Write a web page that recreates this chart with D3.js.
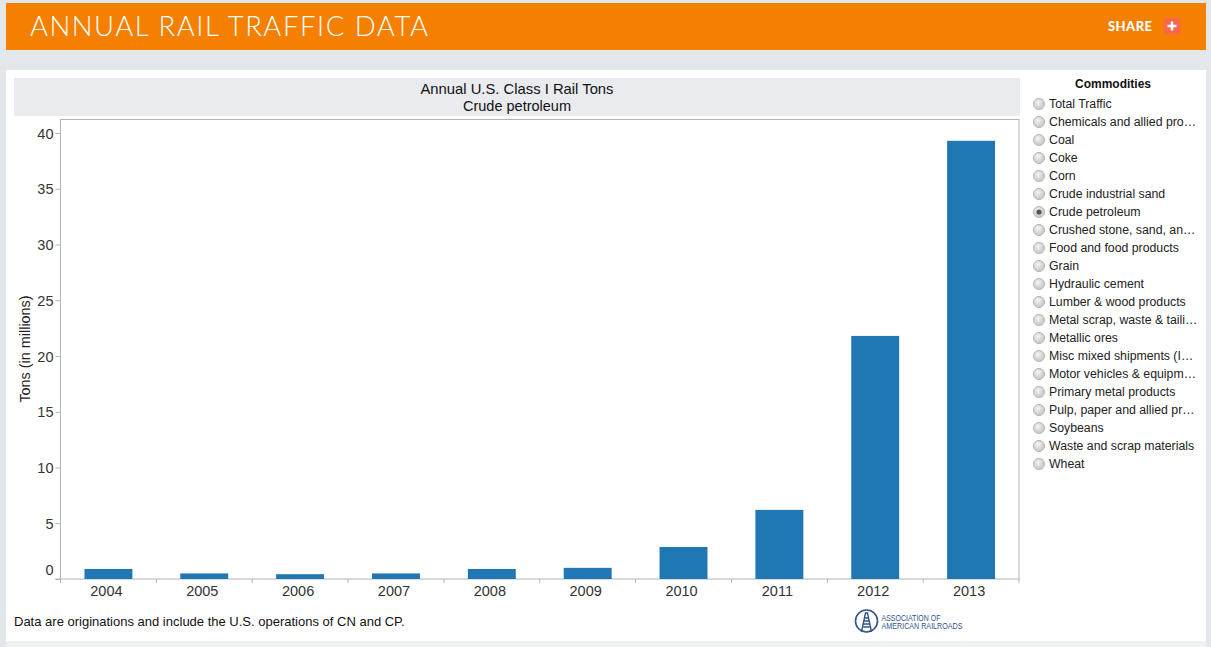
<!DOCTYPE html>
<html>
<head>
<meta charset="utf-8">
<title>Annual Rail Traffic Data</title>
<script src="https://cdnjs.cloudflare.com/ajax/libs/d3/7.8.5/d3.min.js"></script>
<style>
html, body { margin: 0; padding: 0; background: #e4e7ea; overflow: hidden; }
svg { display: block; }
text { font-family: "Liberation Sans", Arial, sans-serif; }
</style>
</head>
<body>
<svg id="chart" width="1211" height="647"></svg>
<script>
// values
const years = ["2004", "2005", "2006", "2007", "2008", "2009", "2010", "2011", "2012", "2013"];
const tons = [0.9, 0.5, 0.43, 0.5, 0.9, 1.0, 2.87, 6.2, 21.8, 39.3];
const yTicks = [0, 5, 10, 15, 20, 25, 30, 35, 40];
const commodities = ["Total Traffic", "Chemicals and allied pro\u2026", "Coal", "Coke", "Corn",
	"Crude industrial sand", "Crude petroleum", "Crushed stone, sand, an\u2026", "Food and food products",
	"Grain", "Hydraulic cement", "Lumber & wood products", "Metal scrap, waste & taili\u2026", "Metallic ores",
	"Misc mixed shipments (I\u2026", "Motor vehicles & equipm\u2026", "Primary metal products",
	"Pulp, paper and allied pr\u2026", "Soybeans", "Waste and scrap materials", "Wheat"];
const selected = "Crude petroleum";

const svg = d3.select("#chart");

//Page background
svg.append("rect").attr("x", 0).attr("y", 641).attr("width", 1211).attr("height", 6).style("fill", "#f0f2f2");
svg.append("rect").attr("x", 0).attr("y", 641).attr("width", 6).attr("height", 6).style("fill", "#e4e7ea");
svg.append("rect").attr("x", 1206).attr("y", 641).attr("width", 5).attr("height", 6).style("fill", "#e4e7ea");
svg.append("rect").attr("x", 6).attr("y", 70).attr("width", 1200).attr("height", 571).style("fill", "#fff");

//Header
svg.append("rect").attr("x", 6).attr("y", 3).attr("width", 1200).attr("height", 47).style("fill", "#f47f00");
svg.append("text").attr("x", 30).attr("y", 36)
	.style("font-family", "Lato, sans-serif").style("font-weight", 300)
	.style("font-size", "27.5px").style("fill", "#fff")
	.attr("textLength", 398).attr("lengthAdjust", "spacing")
	.text("ANNUAL RAIL TRAFFIC DATA");
svg.append("text").attr("x", 1108).attr("y", 31)
	.style("font-family", "Lato, sans-serif").style("font-weight", 900)
	.style("font-size", "13px").style("fill", "#fff")
	.attr("textLength", 44)
	.text("SHARE");
svg.append("rect").attr("x", 1164).attr("y", 18).attr("width", 16).attr("height", 16).attr("rx", 1).style("fill", "#f9684d");
svg.append("path").attr("d", "M1172 21.5V30.5M1167.5 26H1176.5").style("stroke", "#fff").style("stroke-width", 2.4);

//Title band
svg.append("rect").attr("x", 14).attr("y", 78).attr("width", 1006).attr("height", 38).style("fill", "#e9ebee");
svg.append("text").attr("x", 517).attr("y", 94).attr("text-anchor", "middle")
	.style("font-size", "14.8px").style("fill", "#111").text("Annual U.S. Class I Rail Tons");
svg.append("text").attr("x", 517).attr("y", 111).attr("text-anchor", "middle")
	.style("font-size", "14.5px").style("fill", "#111").text(selected);

//Plot
const left = 60.5, right = 1019, top_ = 119.5, bottom = 579;
const x = d3.scaleBand().domain(years).range([left, right]).paddingInner(0.5).paddingOuter(0.25);
const y = d3.scaleLinear().domain([0, 40]).range([bottom, 133]);

svg.append("rect")
	.attr("x", left).attr("y", top_)
	.attr("width", right - left).attr("height", bottom - top_)
	.style("fill", "#fff").style("stroke", "#b4b4b4");

svg.selectAll("rect.bar")
	.data(years)
	.enter()
	.append("rect")
	.attr("class", "bar")
	.attr("x", d => x(d))
	.attr("y", (d, i) => y(tons[i]))
	.attr("width", x.bandwidth())
	.attr("height", (d, i) => bottom - y(tons[i]))
	.style("fill", "#1f77b4");

//Y axis
const yAxis = svg.append("g")
	.attr("transform", `translate(${left},0)`)
	.call(d3.axisLeft(y).tickValues(yTicks).tickSize(5).tickPadding(2).tickFormat(d3.format("d")));
yAxis.select(".domain").remove();
yAxis.selectAll("line").style("stroke", "#b4b4b4");
yAxis.selectAll("text")
	.style("font-family", '"Liberation Sans", Arial, sans-serif')
	.style("font-size", "14.5px").style("fill", "#333")
	.attr("dy", d => d === 0 ? "-0.3em" : "0.36em");

svg.append("text")
	.attr("transform", "translate(30,349) rotate(-90)")
	.attr("text-anchor", "middle")
	.style("font-size", "14.4px").style("fill", "#222")
	.text("Tons (in millions)");

//X axis, ticks sit on the band edges
const edgeTicks = svg.append("g");
const edges = years.map(d => x(d) - x.step() * 0.25).concat([right]);
edgeTicks.selectAll("line")
	.data(edges)
	.enter()
	.append("line")
	.attr("x1", d => d).attr("x2", d => d)
	.attr("y1", bottom).attr("y2", bottom + 4)
	.style("stroke", "#b4b4b4");
svg.append("line").attr("x1", 55).attr("x2", left).attr("y1", bottom).attr("y2", bottom).style("stroke", "#b4b4b4");

//Labels sit a little left of the bar centres in the original
svg.selectAll("text.year")
	.data(years)
	.enter()
	.append("text")
	.attr("class", "year")
	.attr("x", d => x(d) + x.bandwidth() / 2 - 2)
	.attr("y", 596)
	.attr("text-anchor", "middle")
	.style("font-size", "14.5px").style("fill", "#333")
	.text(d => d);

//Footnote
svg.append("text").attr("x", 14).attr("y", 626)
	.style("font-size", "13px").style("fill", "#111")
	.text("Data are originations and include the U.S. operations of CN and CP.");

//Logo
const logo = svg.append("g").attr("transform", "translate(866.5,621)").style("stroke", "#2f5488").style("fill", "none");
logo.append("circle").attr("r", 11).style("stroke-width", 1.6);
logo.append("path").attr("d", "M-5 11L-1 -8H1L5 11M-3.5 3H3.5M-3 6H3M-2.5 0H2.5M-2 -3H2").style("stroke-width", 1.4);
svg.append("text").attr("x", 881.5).attr("y", 620.5)
	.style("font-size", "8.4px").style("fill", "#2f5488")
	.attr("textLength", 59).attr("lengthAdjust", "spacingAndGlyphs")
	.text("ASSOCIATION OF");
svg.append("text").attr("x", 881.5).attr("y", 629)
	.style("font-size", "8.4px").style("fill", "#2f5488")
	.attr("textLength", 81).attr("lengthAdjust", "spacingAndGlyphs")
	.text("AMERICAN RAILROADS");

//Filter list
svg.append("text").attr("x", 1113).attr("y", 88).attr("text-anchor", "middle")
	.style("font-size", "12px").style("font-weight", 700).style("fill", "#111")
	.text("Commodities");

const grad = svg.append("defs").append("radialGradient").attr("id", "radio").attr("cx", "40%").attr("cy", "35%");
grad.append("stop").attr("offset", "0%").style("stop-color", "#f4f4f4");
grad.append("stop").attr("offset", "100%").style("stop-color", "#cfcfcf");

const rows = svg.selectAll("g.row")
	.data(commodities)
	.enter()
	.append("g")
	.attr("class", "row")
	.attr("transform", (d, i) => `translate(0,${104 + i * 18})`);
rows.append("circle")
	.attr("cx", 1039).attr("cy", 0).attr("r", 5.5)
	.style("fill", "url(#radio)").style("stroke", "#b5b5b5");
rows.filter(d => d === selected).append("circle")
	.attr("cx", 1039).attr("cy", 0).attr("r", 2.6).style("fill", "#555");
rows.append("text")
	.attr("x", 1049).attr("y", 4)
	.style("font-size", "12.3px").style("fill", "#222")
	.text(d => d);
</script>
</body>
</html>
